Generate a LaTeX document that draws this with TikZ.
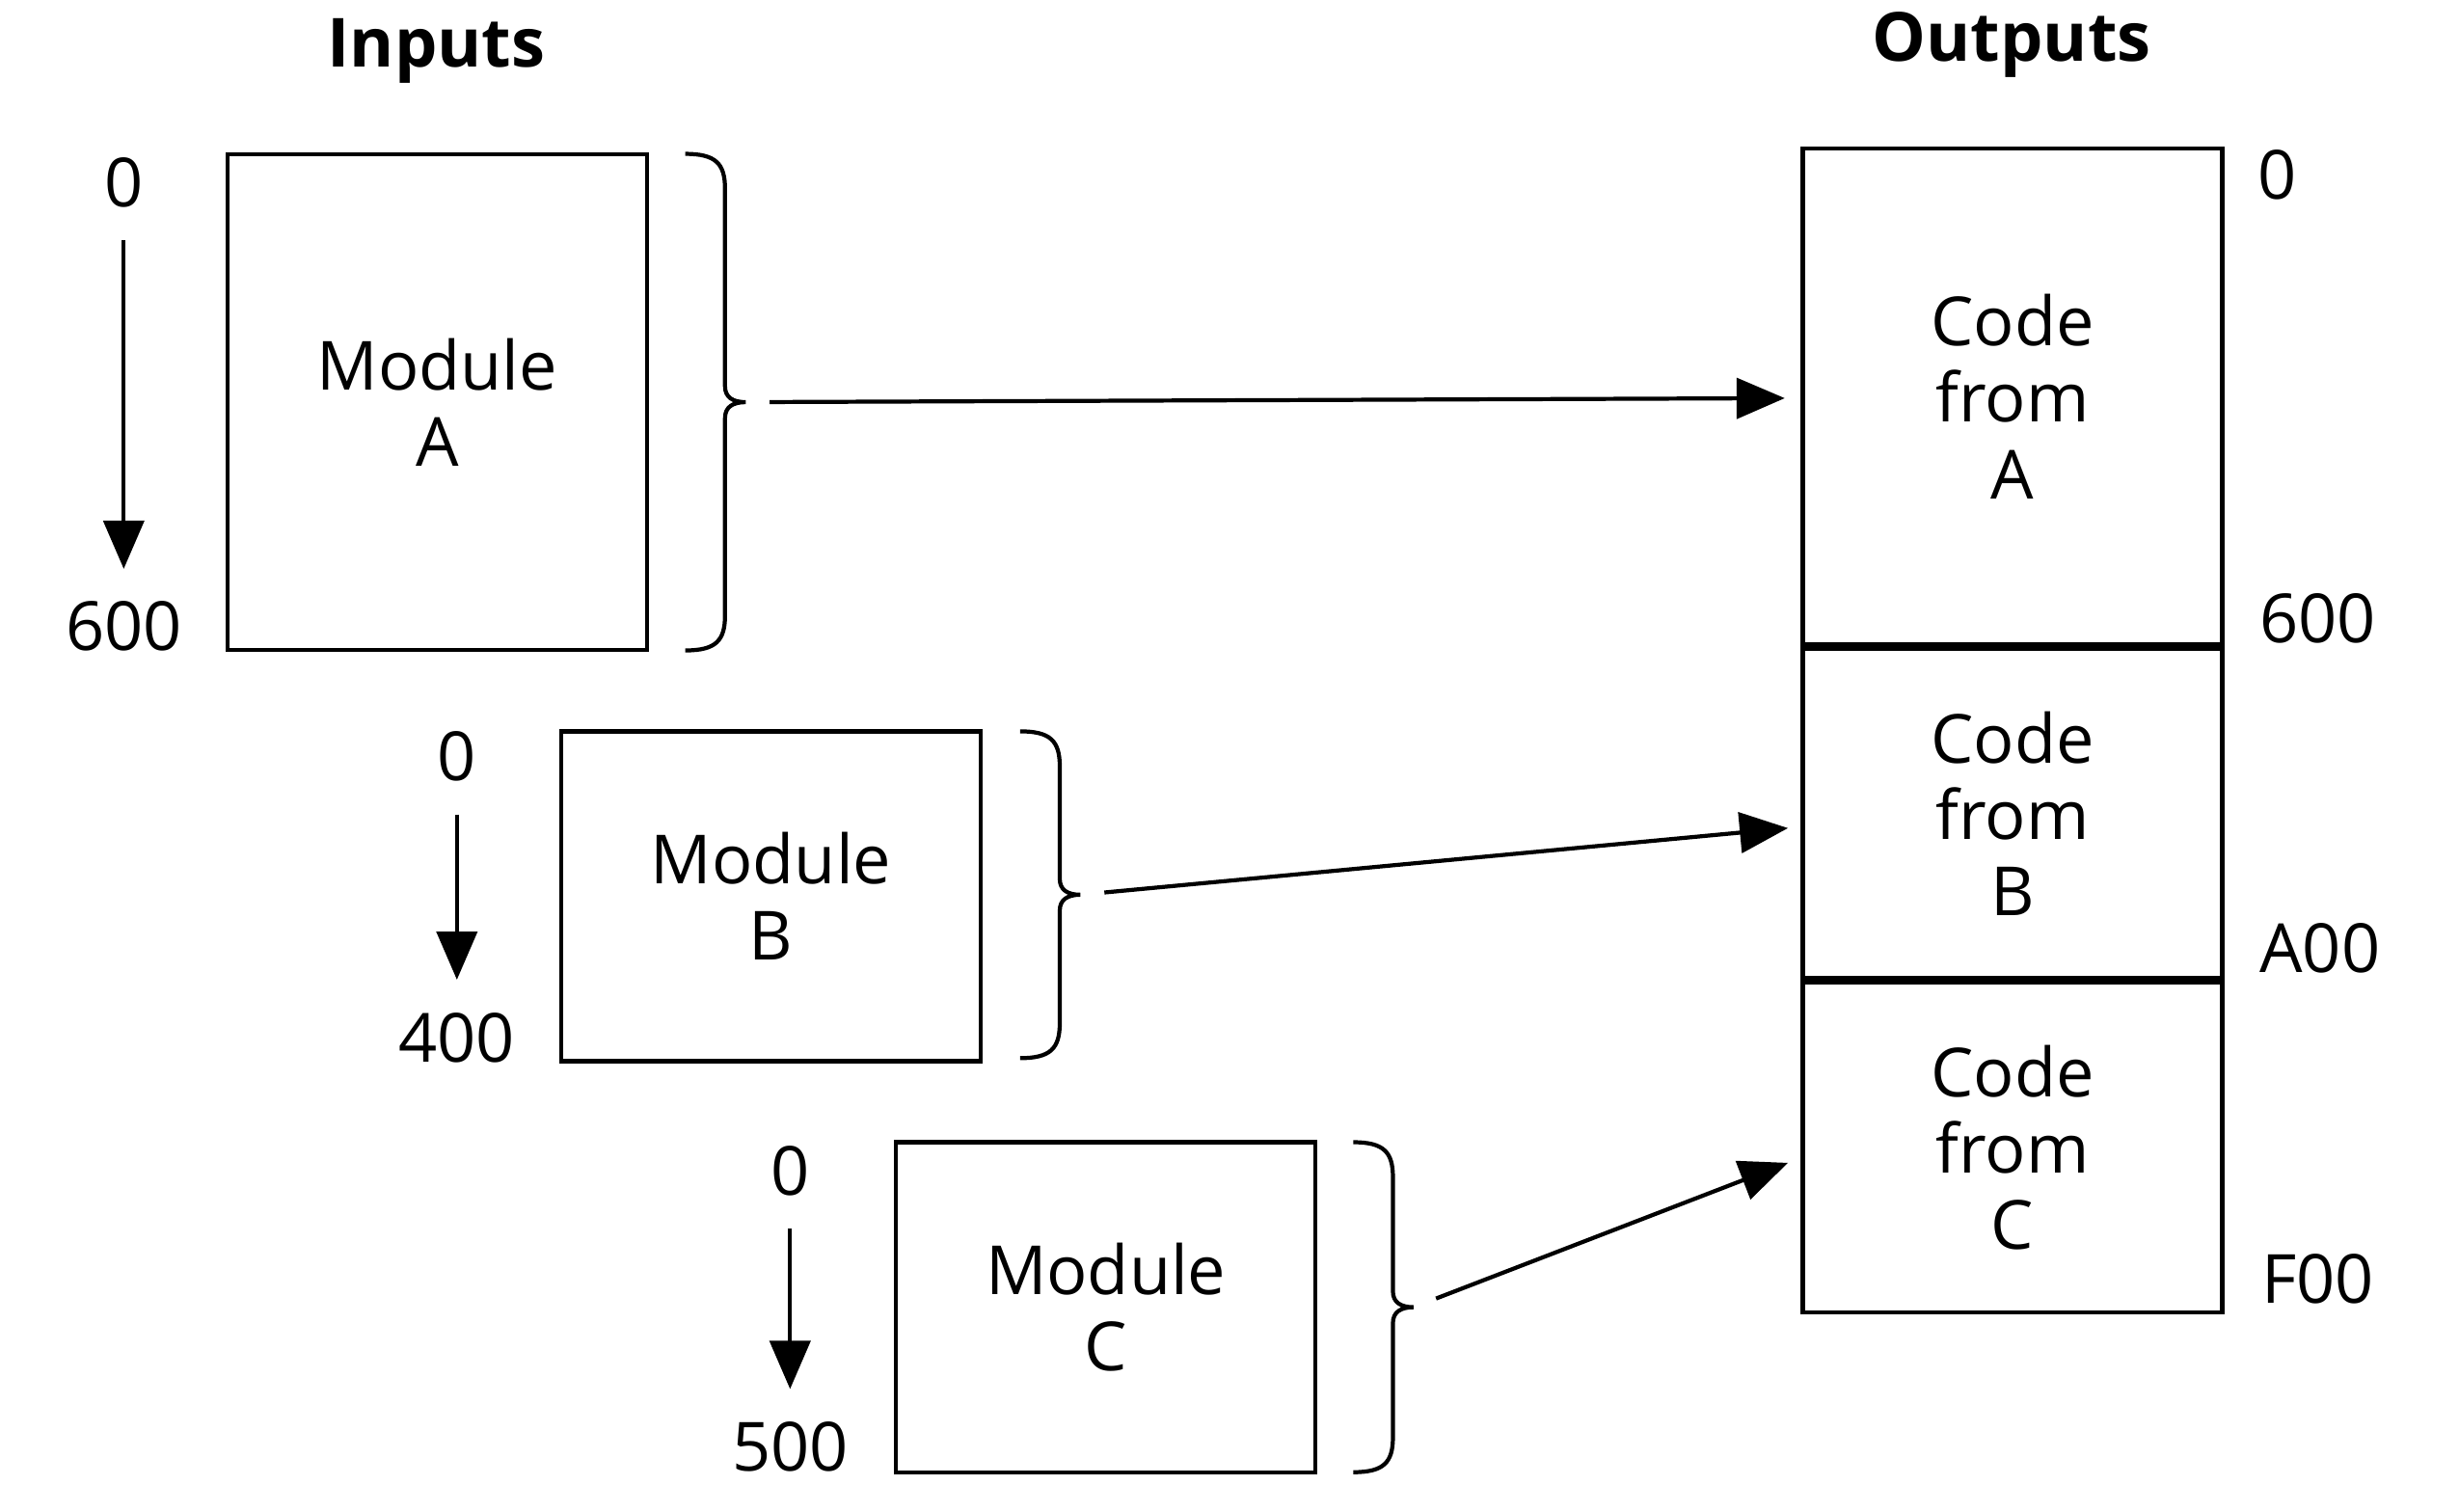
\documentclass[tikz,border=0pt]{standalone}
\usepackage{fontspec}
\setmainfont{Open Sans}
\usetikzlibrary{arrows.meta,positioning}

\begin{document}
\begin{tikzpicture}[
    x=0.1645mm, y=-0.1645mm,
    every node/.style={
        font=\fontsize{20}{22.5}\selectfont,
        align=center
    },
    title/.style={font=\fontsize{20}{22.5}\selectfont\bfseries},
    box/.style={draw, line width=1.2pt, minimum width=43.5mm},
    tall/.style={box, minimum height=51.4mm},
    short/.style={box, minimum height=34.2mm},
    addr/.style={inner sep=9.5pt},
    side/.style={anchor=west, inner sep=0pt},
    link/.style={-{Triangle[length=5mm,width=4.2mm]}, line width=1.2pt},
    pics/bracket/.style={code={
        \draw[line width=1.2pt] (0,-#1) .. controls (19,-#1) and (25,-#1+6) .. (25,-#1+22)
            -- (25,-10) .. controls (25,-3) and (30,0) .. (38,0)
            .. controls (30,0) and (25,3) .. (25,10)
            -- (25,#1-22) .. controls (25,#1-6) and (19,#1) .. (0,#1);
        \coordinate (-tip) at (38,0);
    }}
]
\useasboundingbox (0,0) rectangle (1550,953);

\node[title] (inputs) at (275,32) {Inputs};
\node[title] (outputs) at (1268,28) {Outputs};

% input modules
\node[tall] (modA) at (275.5,253.5) {Module\\A};
\node[short] (modB) at (486,565) {Module\\B};
\node[short] (modC) at (697,824) {Module\\C};

% addresses of the inputs
\node[addr] (a0) at (78,115) {0};
\node[addr] (a600) at (78,395) {600};
\node[addr] (b0) at (288,477) {0};
\node[addr] (b400) at (288,654) {400};
\node[addr] (c0) at (498,738) {0};
\node[addr] (c500) at (498,912) {500};
\draw[link] (a0) -- (a600);
\draw[link] (b0) -- (b400);
\draw[link] (c0) -- (c500);

% output memory
\node[tall] (codeA) at (1268.5,250) {Code\\from\\A};
\node[short, anchor=north] (codeB) at (codeA.south) {Code\\from\\B};
\node[short, anchor=north] (codeC) at (codeB.south) {Code\\from\\C};

\node[side] (o0) at (1423,110) {0};
\node[side] (o600) at (1424,390) {600};
\node[side] (oA00) at (1424,598) {A00};
\node[side] (oF00) at (1425,806) {F00};

% braces
\pic (brA) at (432,253.5) {bracket=156.5};
\pic (brB) at (643,564) {bracket=103};
\pic (brC) at (853,824) {bracket=104};

\coordinate (inA) at (1125,251);
\coordinate (inB) at (1127,522);
\coordinate (inC) at (1127,733);

\draw[link, shorten <=2.5mm] (brA-tip) -- (inA);
\draw[link, shorten <=2.5mm] (brB-tip) -- (inB);
\draw[link, shorten <=2.5mm] (brC-tip) -- (inC);
\end{tikzpicture}
\end{document}
